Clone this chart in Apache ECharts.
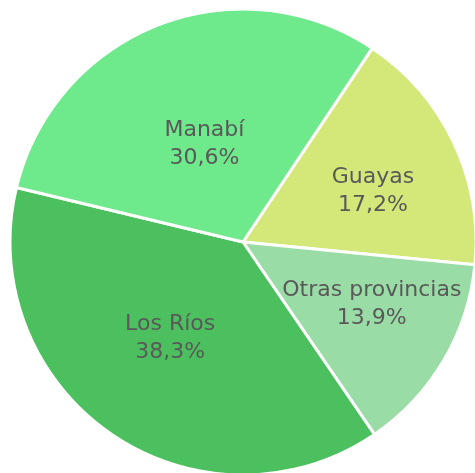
<!DOCTYPE html>
<html>
<head>
<meta charset="utf-8">
<script src="https://cdn.jsdelivr.net/npm/echarts@6/dist/echarts.min.js"></script>
<style>
html, body { margin: 0; padding: 0; background: #fff; }
#chart { width: 475px; height: 473px; }
</style>
</head>
<body>
<div id="chart"></div>
<script>
// datos (porcentaje por provincia)
const provincias = ['Guayas', 'Otras provincias', 'Los Ríos', 'Manabí'];
const porcentajes = [17.2, 13.9, 38.3, 30.6];
const colores = ['#d4e87a', '#9adca6', '#4cc05e', '#6ee98b'];
// pequeño desplazamiento de las etiquetas (como las coloca Excel)
const ajusteEtiquetas = [[22, 0], [26, 1], [-5, -2], [5, 14]];

const chartDom = document.getElementById('chart');
const myChart = echarts.init(chartDom);

const option = {
	animation: false,
	series: [
		{
			type: 'pie',
			center: [243, 242],
			radius: 233,
			startAngle: 56.3,
			clockwise: true,
			data: provincias.map((p, i) => ({
				name: p,
				value: porcentajes[i],
				itemStyle: { color: colores[i] },
				label: { offset: ajusteEtiquetas[i] }
			})),
			itemStyle: { borderColor: '#fff', borderWidth: 3 },
			label: {
				position: 'inside',
				color: '#595959',
				fontFamily: 'DejaVu Sans',
				fontSize: 22,
				lineHeight: 28,
				formatter: p => p.name + '\n' + p.value.toFixed(1).replace('.', ',') + '%'
			},
			labelLine: { show: false },
			emphasis: { disabled: true }
		}
	]
};

myChart.setOption(option);
</script>
</body>
</html>
